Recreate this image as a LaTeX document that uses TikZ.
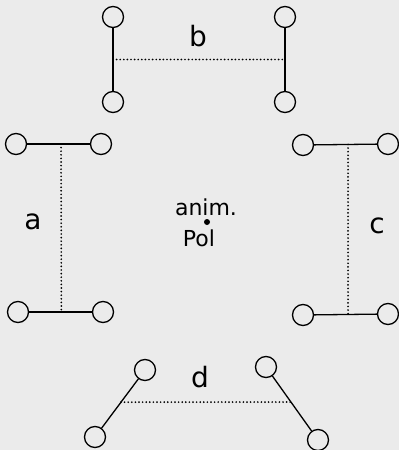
\documentclass[tikz,border=0pt]{standalone}
\usepackage{fontspec}
\setmainfont{DejaVu Sans}
\usetikzlibrary{calc}
\tikzset{
  ring/.style={draw,circle,minimum size=21pt,inner sep=0pt,line width=1.3pt},
  bar/.style={line width=1.3pt},
  link/.style={line width=1.9pt,dash pattern=on 0pt off 3.6pt},
  lbl/.style={font=\fontsize{28}{30}\selectfont}
}
\begin{document}
\begin{tikzpicture}[x=1pt,y=-1pt,line join=round,line cap=round]
	\fill[black!8] (0,0) rectangle (399,450);
	\useasboundingbox (0,0) rectangle (399,450);
	% b (top)
	\node[ring] (b1) at (113,17) {};
	\node[ring] (b2) at (113,102) {};
	\node[ring] (b3) at (285,17) {};
	\node[ring] (b4) at (285,102) {};
	\draw[bar] (b1) -- (b2);
	\draw[bar] (b3) -- (b4);
	\draw[link] ($(b1)!0.5!(b2)$) -- ($(b3)!0.5!(b4)$);
	\node[lbl] (lb) at (198,36) {b};
	% a (left)
	\node[ring] (a1) at (16,144) {};
	\node[ring] (a2) at (101,144) {};
	\node[ring] (a3) at (18,312) {};
	\node[ring] (a4) at (103,312) {};
	\draw[bar] (a1) -- (a2);
	\draw[bar] (a3) -- (a4);
	\draw[link] ($(a1)!0.53!(a2)$) -- ($(a3)!0.51!(a4)$);
	\node[lbl] (la) at (33,222) {a};
	% c (right)
	\node[ring] (c1) at (303,145) {};
	\node[ring] (c2) at (388,144) {};
	\node[ring] (c3) at (303,315) {};
	\node[ring] (c4) at (388,314) {};
	\draw[bar] (c1) -- (c2);
	\draw[bar] (c3) -- (c4);
	\draw[link] ($(c1)!0.53!(c2)$) -- ($(c3)!0.53!(c4)$);
	\node[lbl] (lc) at (377,226) {c};
	% d (bottom)
	\node[ring] (d1) at (145,370) {};
	\node[ring] (d2) at (95,437) {};
	\node[ring] (d3) at (266,367) {};
	\node[ring] (d4) at (318,440) {};
	\draw[bar] (d1) -- (d2);
	\draw[bar] (d3) -- (d4);
	\draw[link] ($(d1)!0.48!(d2)$) -- ($(d3)!0.48!(d4)$);
	\node[lbl] (ld) at (200,377) {d};
	% centre
	\fill (207,222) circle (3pt) coordinate (pol);
	\node[font=\fontsize{22}{24}\selectfont] (anim) at (206,207) {anim.};
	\node[font=\fontsize{22}{24}\selectfont] (pl) at (199,238) {Pol};
\end{tikzpicture}
\end{document}
